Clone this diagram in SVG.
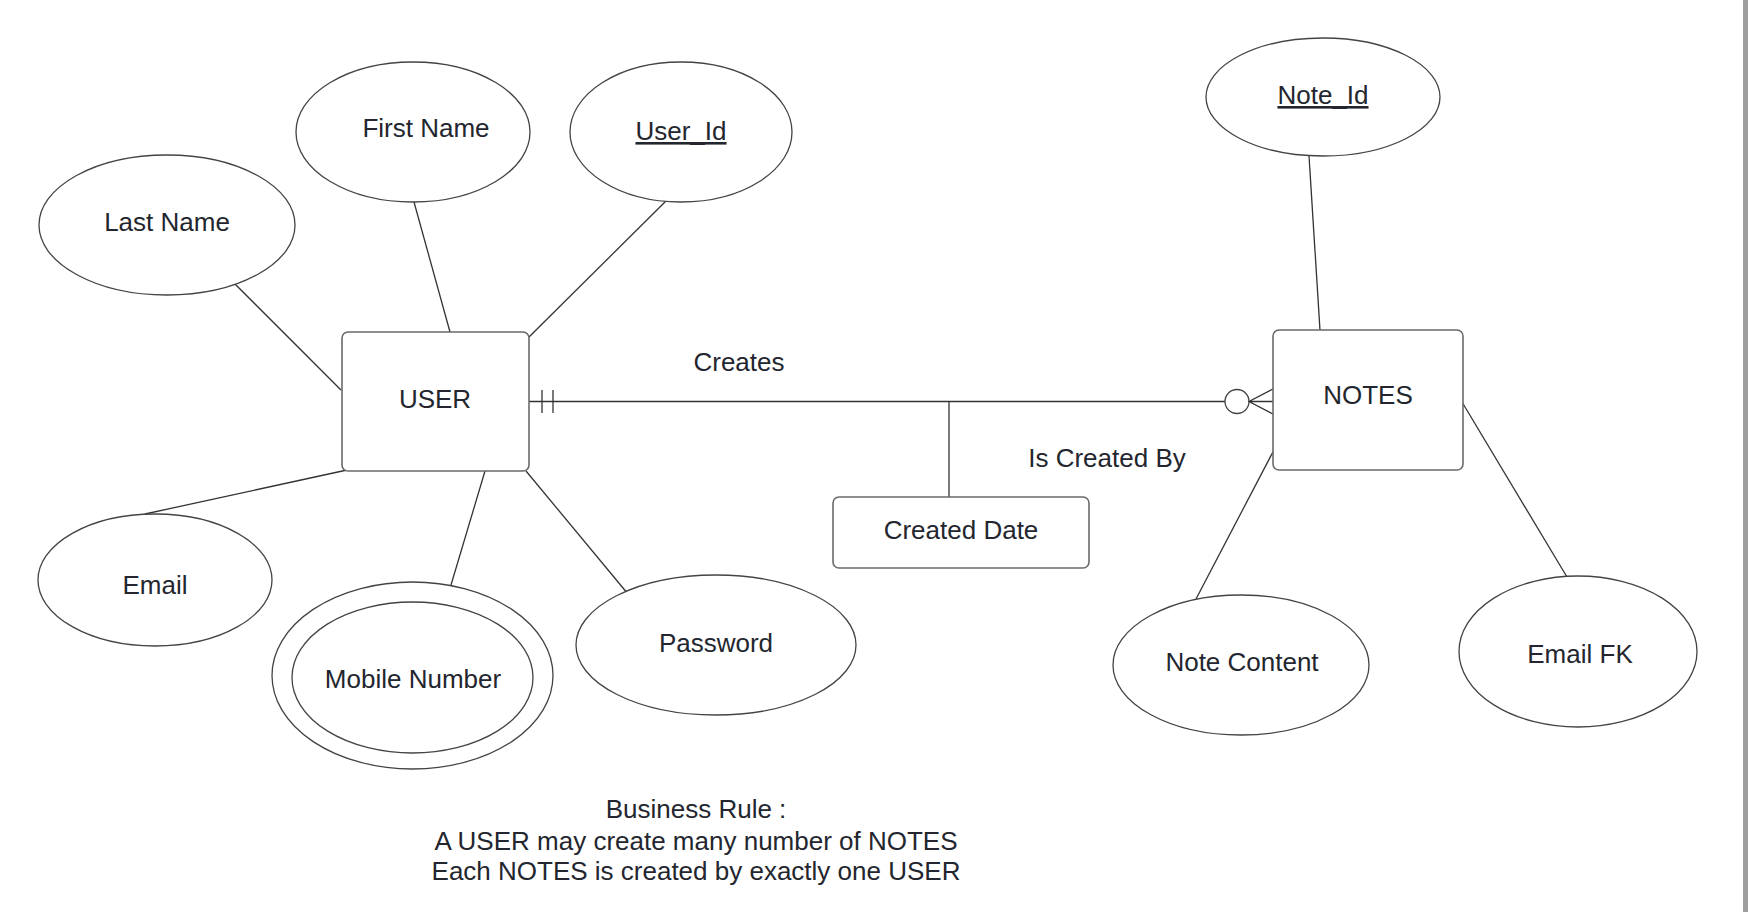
<svg xmlns="http://www.w3.org/2000/svg" width="1748" height="912" viewBox="0 0 1748 912">
<style>
text{font-family:"Liberation Sans",Arial,sans-serif;font-size:26px;fill:#23262e;text-anchor:middle}
.u{text-decoration:underline}
ellipse{fill:#fff;stroke:#444;stroke-width:1.3}
.box{fill:#fff;stroke:#6a6a6a;stroke-width:1.6}
.c line,.c path{stroke:#333;stroke-width:1.3;fill:none}
</style>
<rect width="1748" height="912" fill="#fff"/>
<rect x="1743" y="0" width="5" height="912" fill="#9e9e9e"/>
<g class="c" id="connectors">
<line x1="231" y1="280" x2="341" y2="390"/>
<line x1="414" y1="202" x2="450" y2="332"/>
<line x1="667" y1="200" x2="528" y2="338"/>
<line x1="145" y1="514" x2="347" y2="470"/>
<line x1="451" y1="585" x2="485" y2="471"/>
<line x1="526" y1="471" x2="628" y2="594"/>
<line x1="1309" y1="156" x2="1320" y2="330"/>
<line x1="1196" y1="599" x2="1275" y2="448"/>
<line x1="1462" y1="402" x2="1567" y2="577"/>
<line x1="529" y1="401.5" x2="1225" y2="401.5"/>
<line x1="542" y1="390" x2="542" y2="413"/>
<line x1="553" y1="390" x2="553" y2="413"/>
<line x1="949" y1="401.5" x2="949" y2="497"/>
<circle cx="1237" cy="401.5" r="12" fill="#fff" stroke="#444" stroke-width="1.3"/>
<path d="M1273 389 L1249 401.5 L1273 414 M1249 401.5 L1273 401.5"/>
</g>
<g id="user"><rect class="box" x="342" y="332" width="187" height="139" rx="6"/><text x="435" y="408">USER</text></g>
<g id="notes"><rect class="box" x="1273" y="330" width="190" height="140" rx="6"/><text x="1368" y="404">NOTES</text></g>
<g id="created-date"><rect class="box" x="833" y="497" width="256" height="71" rx="6"/><text x="961" y="539">Created Date</text></g>
<g id="last-name"><ellipse cx="167" cy="225" rx="128" ry="70"/><text x="167" y="231">Last Name</text></g>
<g id="first-name"><ellipse cx="413" cy="132" rx="117" ry="70"/><text x="426" y="137">First Name</text></g>
<g id="user-id"><ellipse cx="681" cy="132" rx="111" ry="70"/><text class="u" x="681" y="140">User_Id</text></g>
<g id="email"><ellipse cx="155" cy="580" rx="117" ry="66"/><text x="155" y="594">Email</text></g>
<g id="mobile-number"><ellipse cx="412.5" cy="675.5" rx="140.5" ry="93.5"/><ellipse cx="412.5" cy="677.5" rx="120.5" ry="75.5"/><text x="413" y="688">Mobile Number</text></g>
<g id="password"><ellipse cx="716" cy="645" rx="140" ry="70"/><text x="716" y="652">Password</text></g>
<g id="note-id"><ellipse cx="1323" cy="97" rx="117" ry="59"/><text class="u" x="1323" y="104">Note_Id</text></g>
<g id="note-content"><ellipse cx="1241" cy="665" rx="128" ry="70"/><text x="1242" y="671">Note Content</text></g>
<g id="email-fk"><ellipse cx="1578" cy="651.5" rx="119" ry="75.5"/><text x="1580" y="663">Email FK</text></g>
<g id="labels">
<text x="739" y="371">Creates</text>
<text x="1107" y="467">Is Created By</text>
<text x="696" y="818">Business Rule :</text>
<text x="696" y="850">A USER may create many number of NOTES</text>
<text x="696" y="880">Each NOTES is created by exactly one USER</text>
</g>
</svg>
